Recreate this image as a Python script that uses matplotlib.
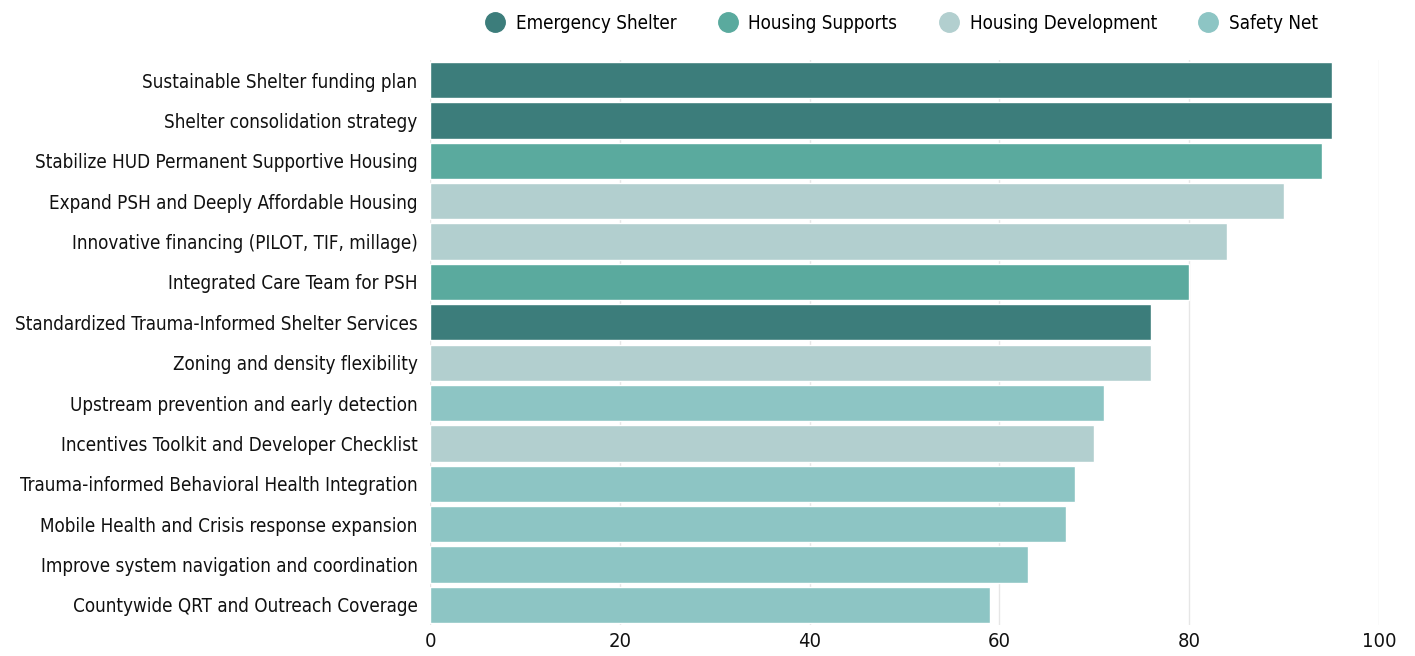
import matplotlib.pyplot as plt
from matplotlib.lines import Line2D
from matplotlib import font_manager

# Strategy scores by category
strategies = [
    "Sustainable Shelter funding plan",
    "Shelter consolidation strategy",
    "Stabilize HUD Permanent Supportive Housing",
    "Expand PSH and Deeply Affordable Housing",
    "Innovative financing (PILOT, TIF, millage)",
    "Integrated Care Team for PSH",
    "Standardized Trauma-Informed Shelter Services",
    "Zoning and density flexibility",
    "Upstream prevention and early detection",
    "Incentives Toolkit and Developer Checklist",
    "Trauma-informed Behavioral Health Integration",
    "Mobile Health and Crisis response expansion",
    "Improve system navigation and coordination",
    "Countywide QRT and Outreach Coverage",
]
scores = [95, 95, 94, 90, 84, 80, 76, 76, 71, 70, 68, 67, 63, 59]
categories = [
    "Emergency Shelter", "Emergency Shelter", "Housing Supports",
    "Housing Development", "Housing Development", "Housing Supports",
    "Emergency Shelter", "Housing Development", "Safety Net",
    "Housing Development", "Safety Net", "Safety Net", "Safety Net",
    "Safety Net",
]
legend_order = ["Emergency Shelter", "Housing Supports", "Housing Development", "Safety Net"]
colors = {
    "Emergency Shelter": "#3c7d7b",
    "Housing Supports": "#5aaa9e",
    "Housing Development": "#b2cfcf",
    "Safety Net": "#8dc5c4",
}
x_ticks = [0, 20, 40, 60, 80, 100]

# prefer a condensed face if one is installed
narrow = [f for f in font_manager.fontManager.ttflist
          if ("Narrow" in f.name or "Condensed" in f.name or f.stretch == "condensed"
              or f.stretch == "semi-condensed") and f.weight in (400, "normal", "regular")]
if narrow:
    font = {"family": [narrow[0].name, "DejaVu Sans"], "stretch": narrow[0].stretch}
    fs = 13.5
else:
    font = {"family": ["Roboto", "DejaVu Sans"], "stretch": "normal"}
    fs = 12.2
plt.rcParams["font.family"] = font["family"]
plt.rcParams["font.stretch"] = font["stretch"]

fig = plt.figure(figsize=(14.15, 6.56), dpi=100)
ax = fig.add_axes([0.3039, 0.0473, 0.6707, 0.8612])

y = list(range(len(strategies)))
ax.barh(y, scores, height=0.9, color=[colors[c] for c in categories],
        edgecolor="white", linewidth=1, zorder=2)

ax.set_xlim(0, 100)
ax.set_ylim(len(strategies) - 0.5, -0.5)
ax.set_xticks(x_ticks)
ax.set_xticklabels([str(t) for t in x_ticks])
ax.set_yticks(y)
ax.set_yticklabels(strategies)
ax.tick_params(axis="both", length=0, labelsize=fs, colors="#111111")
ax.tick_params(axis="x", labelsize=fs + 1, pad=5)
ax.tick_params(axis="y", pad=9)
ax.grid(axis="x", color="#e6e6e6", linewidth=1, zorder=0)
for s in ax.spines.values():
    s.set_visible(False)

handles = [Line2D([], [], marker="o", linestyle="", markersize=14,
                  markerfacecolor=colors[c], markeredgecolor=colors[c], label=c)
           for c in legend_order]
fig.legend(handles=handles, loc="upper center", bbox_to_anchor=(0.634, 1.005),
           ncol=4, frameon=False, fontsize=fs, handletextpad=0.1,
           columnspacing=1.75)

fig.savefig("out.png", dpi=100)
